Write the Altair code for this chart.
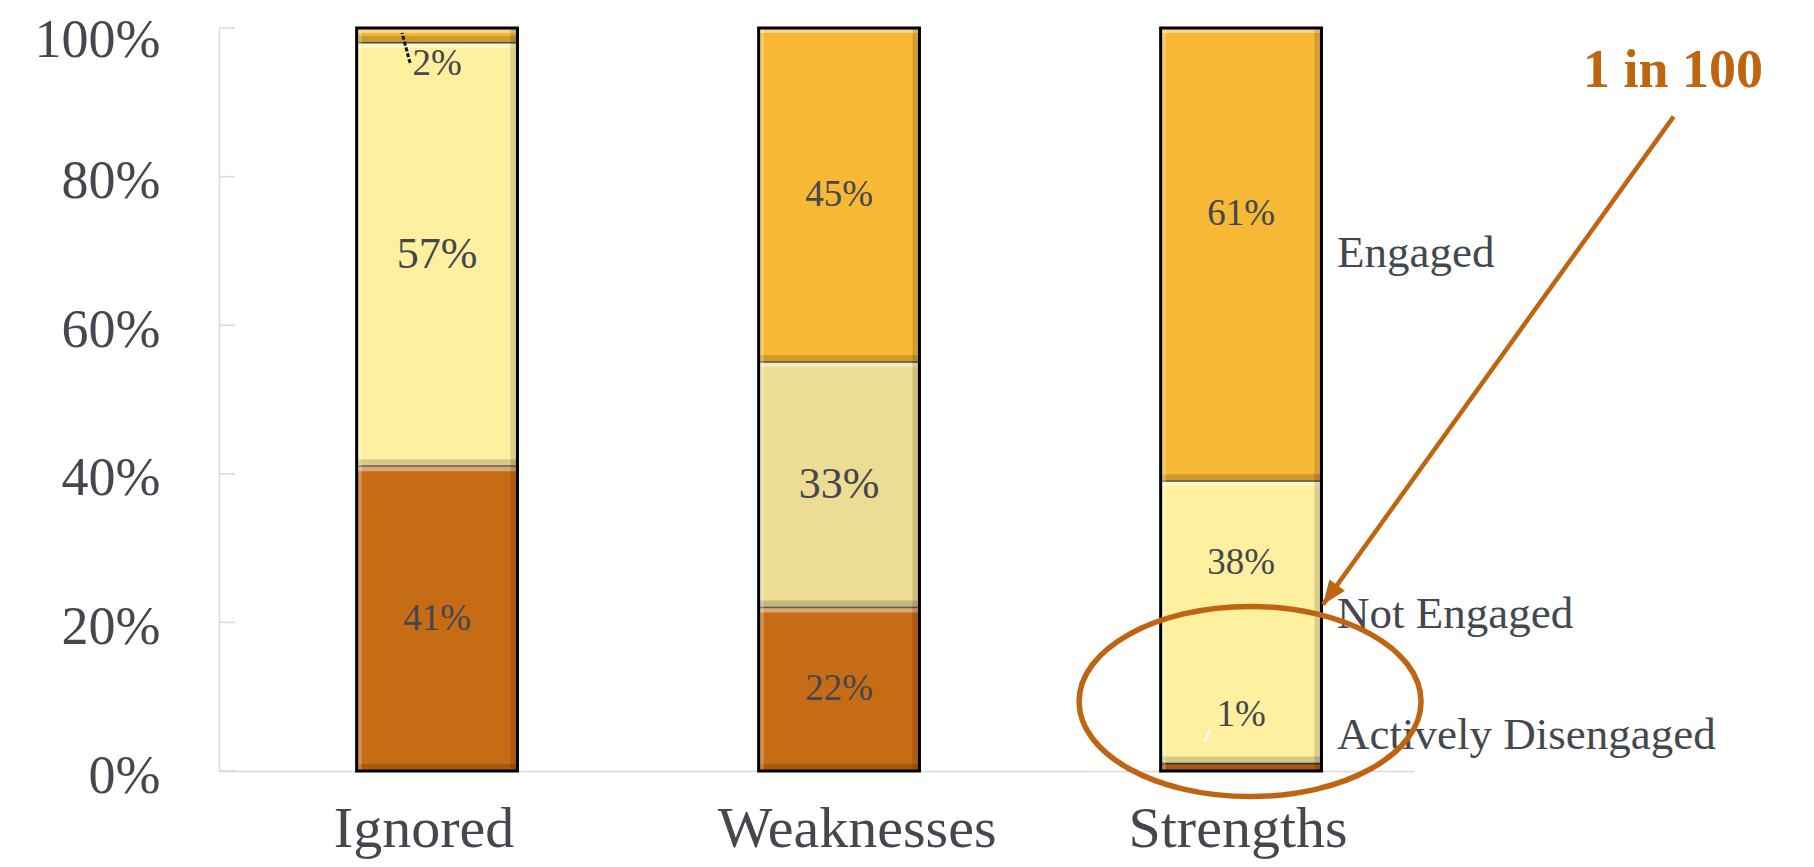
import altair as alt
import pandas as pd

# ---------------- data ----------------
categories = ["Ignored", "Weaknesses", "Strengths"]
series = ["Actively Disengaged", "Not Engaged", "Engaged"]
actively_disengaged = [41, 22, 1]
not_engaged = [57, 33, 38]
engaged = [2, 45, 61]
y_ticks = [0, 20, 40, 60, 80, 100]

# label anchors (data units) for labels that sit away from their segment centre
label_override = {
    ("Ignored", "Engaged"): 95.2,
    ("Strengths", "Engaged"): 75.0,
    ("Strengths", "Not Engaged"): 28.0,
    ("Strengths", "Actively Disengaged"): 7.5,
}
big_labels = {("Ignored", "Not Engaged"), ("Weaknesses", "Not Engaged")}
series_label_y = [2.9, 19.3, 67.9]          # baselines of the right-hand names
callout_text = "1 in 100"

# ---------------- style ----------------
FONT = "Liberation Serif"
TXT = "#44474D"
ORANGE = "#BF6511"
series_colors = ["#C66C14", "#FFF0A0", "#F7B835"]
weak_not_engaged_color = "#EDDC93"
W, H = 1195, 743

rows = []
vals = [actively_disengaged, not_engaged, engaged]
for i, c in enumerate(categories):
    base = 0
    for s, v in zip(series, vals):
        val = v[i]
        rows.append(dict(category=c, series=s, value=val, y0=base, y1=base + val,
                         label=f"{val}%", ly=label_override.get((c, s), base + val / 2),
                         big=(c, s) in big_labels))
        base += val
seg = pd.DataFrame(rows)
totals = pd.DataFrame({"category": categories,
                       "total": [a + b + e for a, b, e in zip(*vals)]})
names = pd.DataFrame({"category": ["Strengths"] * 3, "series": series, "y": series_label_y})

x_scale = alt.Scale(paddingInner=0.6, paddingOuter=0.2863, align=0.598)
y_scale = alt.Scale(domain=[0, 100], nice=False)

x_label_offset = {
    "condition": [
        {"test": "datum.value == 'Ignored'", "value": -13},
        {"test": "datum.value == 'Weaknesses'", "value": 18},
    ],
    "value": -3,
}
y_label_offset = {"condition": {"test": "datum.value == 100", "value": 12}, "value": 5}

def X(axis=False):
    if axis:
        return alt.X("category:N", sort=categories, scale=x_scale, title=None,
                     axis=alt.Axis(labelAngle=0, labelFont=FONT, labelFontSize=58,
                                   labelColor=TXT, labelPadding=29, labelLimit=0,
                                   labelOffset=x_label_offset,
                                   ticks=False, tickSize=0,
                                   domainColor="#D9D9D9", domainWidth=1.5))
    return alt.X("category:N", sort=categories, scale=x_scale, title=None)

def Y(field, axis=False):
    if axis:
        return alt.Y(field, scale=y_scale, title=None,
                     axis=alt.Axis(values=y_ticks, labelExpr="datum.value + '%'",
                                   labelFont=FONT, labelFontSize=54, labelColor=TXT,
                                   labelPadding=59, labelOffset=y_label_offset, labelLimit=0,
                                   ticks=False, tickSize=0,
                                   grid=False, domainColor="#D9D9D9", domainWidth=1.5))
    return alt.Y(field, scale=y_scale, title=None)

base = alt.Chart(seg)
cond = "datum.category == 'Weaknesses' && datum.series == 'Not Engaged'"
bars = base.mark_bar(stroke="#3A3A3A", strokeWidth=1.5).encode(
    x=X(True), y=Y("y0:Q", True), y2="y1:Q",
    color=alt.condition(cond, alt.value(weak_not_engaged_color),
                        alt.Color("series:N", scale=alt.Scale(domain=series, range=series_colors),
                                  legend=None)))

# bevel look
shade_bottom = base.mark_bar(color="#000000", opacity=0.16, y2Offset=-7).encode(
    x=X(), y=Y("y0:Q"), y2="y0:Q")
light_top = base.transform_filter("datum.value >= 2").mark_bar(
    color="#FFFFFF", opacity=0.4, y2Offset=5).encode(x=X(), y=Y("y1:Q"), y2="y1:Q")
shade_right = base.mark_bar(color="#000000", opacity=0.14, width=7, xOffset=76.9).encode(
    x=X(), y=Y("y0:Q"), y2="y1:Q")
light_left = base.mark_bar(color="#FFFFFF", opacity=0.25, width=5, xOffset=-77.9).encode(
    x=X(), y=Y("y0:Q"), y2="y1:Q")

outline = alt.Chart(totals).mark_bar(fillOpacity=0, stroke="#000000", strokeWidth=3).encode(
    x=X(), y=alt.Y("total:Q", scale=y_scale, title=None, stack=None), y2=alt.datum(0))

ticks = alt.Chart(pd.DataFrame({"t": y_ticks})).mark_rule(color="#D9D9D9", strokeWidth=1.5).encode(
    y=Y("t:Q"), x=alt.value(0), x2=alt.value(16))

labels = base.mark_text(font=FONT, color=TXT, baseline="middle").encode(
    x=X(), y=Y("ly:Q"), text="label:N",
    size=alt.condition("datum.big", alt.value(44), alt.value(37)))

# leader lines for the small segments
lead2 = alt.Chart(pd.DataFrame({"category": ["Ignored"], "y": [95.3]})).mark_point(
    shape="M 0 0 L -0.267 -1", size=3600, filled=False, color="#111111", strokeWidth=3,
    strokeDash=[4, 2], opacity=1, xOffset=-27).encode(x=X(), y=Y("y:Q"))
lead1 = alt.Chart(pd.DataFrame({"category": ["Strengths"], "y": [4.0]})).mark_point(
    shape="M 0 0 L 0.4 -1", size=625, filled=False, color="#FFFFFF", strokeWidth=2.5,
    opacity=1, xOffset=-36).encode(x=X(), y=Y("y:Q"))

names_layer = alt.Chart(names).mark_text(font=FONT, fontSize=45, color=TXT, align="left",
                                         baseline="alphabetic", dx=96).encode(
    x=X(), y=Y("y:Q"), text="series:N")

callout = alt.Chart(pd.DataFrame({"category": ["Strengths"], "y": [92.1], "t": [callout_text]})).mark_text(
    font=FONT, fontSize=54, fontWeight="bold", color=ORANGE, align="center",
    baseline="alphabetic", dx=432).encode(x=X(), y=Y("y:Q"), text="t:N")

arrow_line = alt.Chart(pd.DataFrame({"category": ["Strengths"], "y": [22.4]})).mark_point(
    shape="M 0 0 L 0.7184 -1", size=952576, filled=False, color=ORANGE, strokeWidth=4.5,
    opacity=1, xOffset=82).encode(x=X(), y=Y("y:Q"))
arrow_head = alt.Chart(pd.DataFrame({"category": ["Strengths"], "y": [22.4]})).mark_point(
    shape="M 0 0 L -0.4 1 L 0.4 1 Z", size=2304, filled=True, color=ORANGE, angle=216,
    opacity=1, xOffset=82).encode(x=X(), y=Y("y:Q"))

ellipse = alt.Chart(pd.DataFrame({"category": ["Strengths"], "y": [9.35]})).mark_point(
    shape="M -1 0 A 1 0.556 0 1 0 1 0 A 1 0.556 0 1 0 -1 0", size=116964, filled=False,
    color=ORANGE, strokeWidth=5.5, opacity=1, xOffset=9).encode(x=X(), y=Y("y:Q"))

chart = alt.layer(
    bars, shade_bottom, light_top, shade_right, light_left, outline, ticks, labels,
    lead2, lead1, names_layer, callout, arrow_line, arrow_head, ellipse
).properties(
    width=W, height=H,
    autosize=alt.AutoSizeParams(type="none"),
    padding={"left": 211, "top": 20, "right": 392, "bottom": 88},
    background="white",
).configure_view(strokeWidth=0)

chart.save("out.html", embed_options={"renderer": "svg", "actions": False})
